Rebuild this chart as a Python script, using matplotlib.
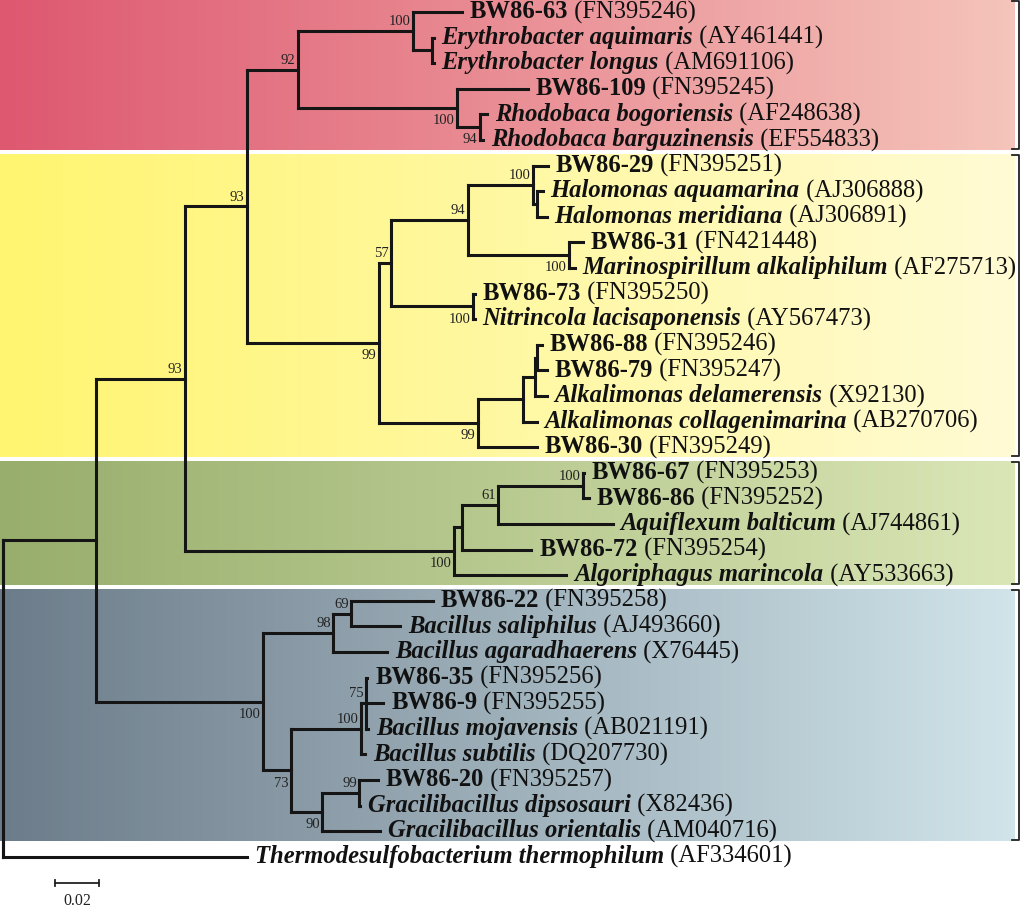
import matplotlib.pyplot as plt
import numpy as np

# leaves from top to bottom
names = ['BW86-63', 'Erythrobacter aquimaris', 'Erythrobacter longus', 'BW86-109',
         'Rhodobaca bogoriensis', 'Rhodobaca barguzinensis',
         'BW86-29', 'Halomonas aquamarina', 'Halomonas meridiana', 'BW86-31',
         'Marinospirillum alkaliphilum', 'BW86-73', 'Nitrincola lacisaponensis',
         'BW86-88', 'BW86-79', 'Alkalimonas delamerensis', 'Alkalimonas collagenimarina',
         'BW86-30',
         'BW86-67', 'BW86-86', 'Aquiflexum balticum', 'BW86-72', 'Algoriphagus marincola',
         'BW86-22', 'Bacillus saliphilus', 'Bacillus agaradhaerens', 'BW86-35', 'BW86-9',
         'Bacillus mojavensis', 'Bacillus subtilis', 'BW86-20', 'Gracilibacillus dipsosauri',
         'Gracilibacillus orientalis',
         'Thermodesulfobacterium thermophilum']
accessions = ['FN395246', 'AY461441', 'AM691106', 'FN395245', 'AF248638', 'EF554833',
              'FN395251', 'AJ306888', 'AJ306891', 'FN421448', 'AF275713', 'FN395250',
              'AY567473', 'FN395246', 'FN395247', 'X92130', 'AB270706', 'FN395249',
              'FN395253', 'FN395252', 'AJ744861', 'FN395254', 'AY533663',
              'FN395258', 'AJ493660', 'X76445', 'FN395256', 'FN395255', 'AB021191',
              'DQ207730', 'FN395257', 'X82436', 'AM040716', 'AF334601']

# topology (leaf numbers index names), branch lengths, bootstrap values
alpha = ('((0:0.0221,(1:0.0009,2:0.0009):0.0086)100:0.0519,'
         '(3:0.032,(4:0.0032,5:0.0014)94:0.0104)100:0.0718)92:0.023')
gamma = ('((((6:0.0068,(7:0.0027,8:0.0045):0.0018)100:0.0293,'
         '(9:0.0063,10:0.0027)100:0.0456)94:0.0348,'
         '(11:0.0009,12:0.0009)100:0.037)57:0.0054,'
         '((((13:0.0023,14:0.0045):0.0009,15:0.0054):0.0054,16:0.0063):0.0203,'
         '17:0.0266)99:0.0447)99:0.0596')
bacteroid = '((((18:0.0005,19:0.0027)100:0.0384,20:0.0519)61:0.0163,21:0.0316):0.0036,22:0.051)100:0.1214'
firmi = ('(((23:0.037,24:0.0221)69:0.0081,25:0.0244)98:0.0316,'
         '(((26:0.0005,27:0.0077,28:0.0009)75:0.0023,29:0.0018)100:0.0316,'
         '((30:0.0086,31:0.0005)99:0.0167,32:0.0262)90:0.014)73:0.0126)100:0.0754')
newick = '((((' + alpha + ',' + gamma + ')93:0.028,' + bacteroid + ')93:0.040,' + firmi + '):0.042,33:0.110);'

# clades (first leaf, last leaf) whose bootstrap sits under the branch
below = [(3, 5), (4, 5), (6, 17), (9, 10), (11, 12), (13, 17), (18, 22), (23, 32), (26, 32), (30, 32)]

groups = [(0, 5), (6, 17), (18, 22), (23, 32)]
left_cols = [(222, 88, 112), (255, 245, 112), (152, 174, 108), (108, 124, 138)]
right_cols = [(245, 196, 186), (255, 251, 212), (218, 230, 182), (208, 228, 234)]


def parse(s):
    pos = 0

    def node():
        nonlocal pos
        kids = []
        if s[pos] == '(':
            pos += 1
            kids.append(node())
            while s[pos] == ',':
                pos += 1
                kids.append(node())
            pos += 1
        j = pos
        while s[pos] not in ':,);':
            pos += 1
        label = s[j:pos]
        length = 0.0
        if s[pos] == ':':
            pos += 1
            j = pos
            while s[pos] not in ',);':
                pos += 1
            length = float(s[j:pos])
        return {'kids': kids, 'label': label, 'len': length}
    return node()


def layout(n, x0):
    n['x'] = x0 + n['len']
    if n['kids']:
        for k in n['kids']:
            layout(k, n['x'])
        n['y'] = (n['kids'][0]['y'] + n['kids'][-1]['y']) / 2
        n['first'] = n['kids'][0]['first']
        n['last'] = n['kids'][-1]['last']
    else:
        n['y'] = int(n['label'])
        n['first'] = n['last'] = n['y']


tree = parse(newick)
layout(tree, 0.0)

PX = 2215.0   # pixels per unit branch length
ROW = 25.6    # pixels per leaf

fig = plt.figure(figsize=(10.24, 9.10), dpi=100)
ax = fig.add_axes([0, 0, 1, 1])
ax.set_xlim(-3 / PX, 1021 / PX)
ax.set_ylim(898 / ROW, -12 / ROW)
ax.axis('off')

# coloured group bands with brackets
xr = 1012 / PX
for (a, b), c1, c2 in zip(groups, left_cols, right_cols):
    t = np.linspace(0, 1, 256)[:, None]
    grad = (np.array(c1) * (1 - t) + np.array(c2) * t) / 255.0
    ax.imshow(grad[None, :, :], extent=(-3 / PX, xr, b + 0.38, a - 0.45),
              aspect='auto', zorder=0)
    xb = 1016 / PX
    ax.plot([xb - 7 / PX, xb, xb, xb - 7 / PX], [a - 0.42, a - 0.42, b + 0.36, b + 0.36],
            color='#222222', lw=1.3, clip_on=False, zorder=2)

lc = '#151515'
lw = 2.2
fs = 17.7


def draw(n, px=None):
    if px is not None:
        ax.plot([px, n['x']], [n['y'], n['y']], color=lc, lw=lw,
                solid_capstyle='projecting', zorder=3)
    if n['kids']:
        ax.plot([n['x'], n['x']], [n['kids'][0]['y'], n['kids'][-1]['y']], color=lc, lw=lw,
                solid_capstyle='projecting', zorder=3)
        for k in n['kids']:
            draw(k, n['x'])
        if n['label']:
            if (n['first'], n['last']) in below:
                ax.annotate(n['label'], (n['x'], n['y']), xytext=(-1.5, -4.5),
                            textcoords='offset points', ha='right', va='top',
                            fontsize=10.5, family='Liberation Serif', color='#222222', zorder=4)
            else:
                ax.annotate(n['label'], (n['x'], n['y']), xytext=(-1.5, 2),
                            textcoords='offset points', ha='right', va='bottom',
                            fontsize=10.5, family='Liberation Serif', color='#222222', zorder=4)
    else:
        i = n['y']
        isolate = names[i].startswith('BW86')
        t1 = ax.annotate(names[i], (n['x'], n['y']), xytext=(5.8, -4.5),
                         textcoords='offset points', ha='left', va='baseline',
                         fontsize=fs, family='Liberation Serif', fontweight='bold',
                         fontstyle='normal' if isolate else 'italic', color='#111111', zorder=4)
        leaves.append((t1, i, n))


leaves = []
draw(tree)
tree_x = tree['x']
ax.plot([tree_x, tree_x], [tree['kids'][0]['y'], tree['kids'][-1]['y']], color=lc, lw=lw, zorder=3)

fig.canvas.draw()
r = fig.canvas.get_renderer()
for t1, i, n in leaves:
    bb = t1.get_window_extent(r)
    px, py = ax.transData.transform((n['x'], n['y']))
    fig.text(bb.x1 / fig.bbox.width, (py - 6.25) / fig.bbox.height, ' (' + accessions[i] + ')',
             ha='left', va='baseline', fontsize=fs, family='Liberation Serif',
             color='#111111', zorder=4)

# scale bar
sx = 52 / PX
sy = 871 / ROW
ax.plot([sx, sx + 0.02], [sy, sy], color='#222222', lw=1.3)
ax.plot([sx, sx], [sy - 0.1, sy + 0.1], color='#222222', lw=1.3)
ax.plot([sx + 0.02, sx + 0.02], [sy - 0.1, sy + 0.1], color='#222222', lw=1.3)
ax.text(sx + 0.01, sy + 0.4, '0.02', ha='center', va='top', fontsize=11.5,
        family='Liberation Serif', color='#222222')

fig.savefig('out.png', dpi=100)
